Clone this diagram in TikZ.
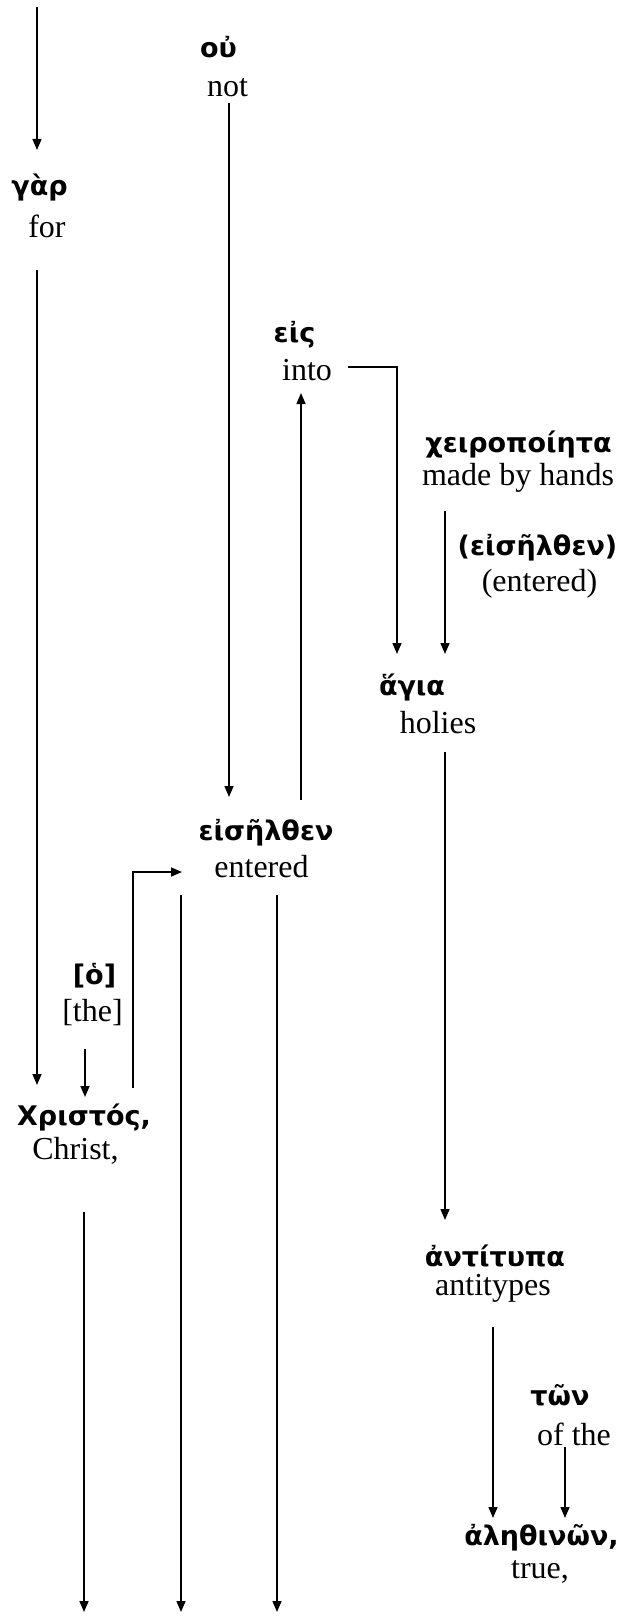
\documentclass[tikz,border=0pt]{standalone}
\usepackage{fontspec}
\setmainfont{Liberation Serif}
\newfontfamily\grk{DejaVu Sans}
\usetikzlibrary{arrows.meta}
\tikzset{
 gk/.style={anchor=base, inner sep=0pt, font=\grk\bfseries\fontsize{27}{31}\selectfont},
 en/.style={anchor=base, inner sep=0pt, font=\fontsize{32}{38}\selectfont},
 arr/.style={line width=1.5pt, -{Triangle[length=11pt,width=9pt]}},
}
\begin{document}
\begin{tikzpicture}[x=1pt,y=-1pt]
\useasboundingbox (0,0) rectangle (621,1616);
% words
\node[gk] (garG) at (39.5,196) {γὰρ};
\node[en] (garE) at (47,237) {for};
\node[gk] (ouG) at (218.5,58) {οὐ};
\node[en] (ouE) at (227.5,97) {not};
\node[gk] (eisG) at (294.5,342) {εἰς};
\node[en] (eisE) at (307,380) {into};
\node[gk] (xeiG) at (518.5,452) {χειροποίητα};
\node[en] (xeiE) at (518,485) {made by hands};
\node[gk] (eis2G) at (537.5,555) {(εἰσῆλθεν)};
\node[en] (eis2E) at (539.5,591) {(entered)};
\node[gk] (agiaG) at (412,695) {ἅγια};
\node[en] (agiaE) at (438,733) {holies};
\node[gk] (eisrG) at (266,840) {εἰσῆλθεν};
\node[en] (eisrE) at (261.5,877) {entered};
\node[gk] (hoG) at (94.5,984) {[ὁ]};
\node[en] (hoE) at (92.5,1021) {[the]};
\node[gk] (xrG) at (84,1125) {Χριστός,};
\node[en] (xrE) at (75.5,1159) {Christ,};
\node[gk] (antG) at (495,1266) {ἀντίτυπα};
\node[en] (antE) at (493,1295) {antitypes};
\node[gk] (tonG) at (560,1405) {τῶν};
\node[en] (tonE) at (574,1445) {of the};
\node[gk] (aleG) at (541.5,1545) {ἀληθινῶν,};
\node[en] (aleE) at (540,1578) {true,};
% connector ends
\coordinate (topS) at (37,7);
\coordinate (garIn) at (37,150);
\coordinate (garOut) at (37,270);
\coordinate (xrIn) at (37,1085);
\coordinate (ouOut) at (229,103);
\coordinate (eisrIn) at (229,797);
\coordinate (eisrUp) at (301,800);
\coordinate (eisIn) at (301,393);
\coordinate (eisOut) at (348,367);
\coordinate (agiaIn1) at (397,654);
\coordinate (xeiOut) at (445,511);
\coordinate (agiaIn2) at (445,654);
\coordinate (agiaOut) at (445,752);
\coordinate (antIn) at (445,1220);
\coordinate (hoOut) at (85,1049);
\coordinate (xrIn2) at (85,1097);
\coordinate (xrOut) at (133,1088);
\coordinate (eisrInL) at (182,872);
\coordinate (xrDown) at (84,1212);
\coordinate (xrEnd) at (84,1612);
\coordinate (eisrD1) at (181,895);
\coordinate (eisrE1) at (181,1612);
\coordinate (eisrD2) at (277,895);
\coordinate (eisrE2) at (277,1612);
\coordinate (antOut) at (493,1327);
\coordinate (aleIn1) at (493,1518);
\coordinate (tonOut) at (565,1447);
\coordinate (aleIn2) at (565,1518);
% connectors
\draw[arr] (topS) -- (garIn);
\draw[arr] (garOut) -- (xrIn);
\draw[arr] (ouOut) -- (eisrIn);
\draw[arr] (eisrUp) -- (eisIn);
\draw[arr] (eisOut) -| (agiaIn1);
\draw[arr] (xeiOut) -- (agiaIn2);
\draw[arr] (agiaOut) -- (antIn);
\draw[arr] (hoOut) -- (xrIn2);
\draw[arr] (xrOut) |- (eisrInL);
\draw[arr] (xrDown) -- (xrEnd);
\draw[arr] (eisrD1) -- (eisrE1);
\draw[arr] (eisrD2) -- (eisrE2);
\draw[arr] (antOut) -- (aleIn1);
\draw[arr] (tonOut) -- (aleIn2);
\end{tikzpicture}
\end{document}
